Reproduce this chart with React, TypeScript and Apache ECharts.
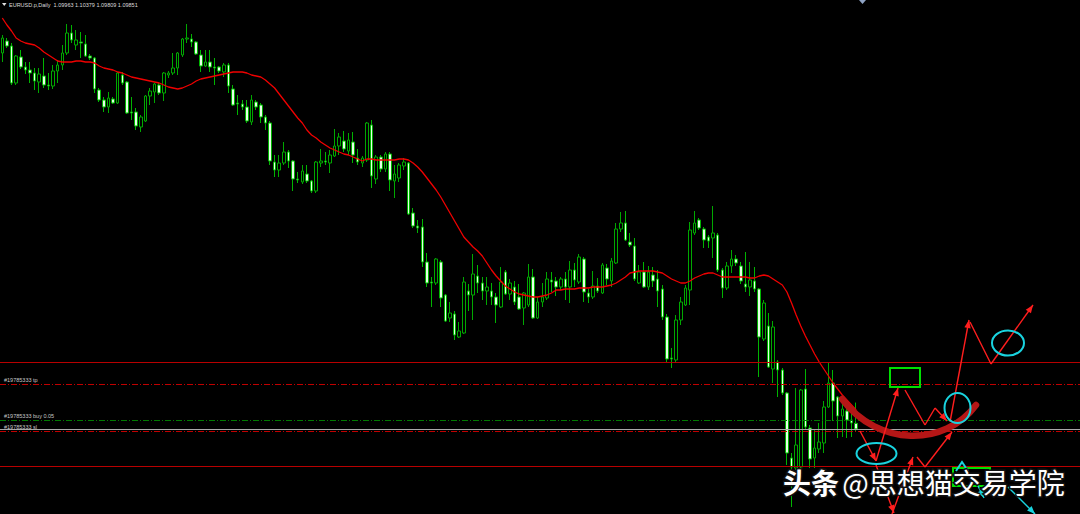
import React, { useEffect, useRef } from "react";
import * as echarts from "echarts";

// ---- data (EURUSD.p, Daily) ----
const titleText = "EURUSD.p,Daily  1.09963 1.10379 1.09809 1.09851";
const slotCount = 234; // bar slots incl. the empty right shift area
const categories = Array.from({ length: slotCount }, (_, i) => "D" + (i + 1));

const openP = [
  1.1737, 1.1761, 1.1751, 1.1677, 1.1729, 1.1709, 1.1703, 1.1697, 1.1679, 1.1691,
  1.1673, 1.1671, 1.1701, 1.1713, 1.1737, 1.1777, 1.1753, 1.1759, 1.1755, 1.1731,
  1.1727, 1.1663, 1.1643, 1.1629, 1.1645, 1.1637, 1.1693, 1.1679, 1.1619, 1.1619,
  1.1589, 1.1601, 1.1651, 1.1659, 1.1673, 1.1657, 1.1693, 1.1697, 1.1707, 1.1733,
  1.1765, 1.1765, 1.1759, 1.1733, 1.1711, 1.1719, 1.1709, 1.1709, 1.1699, 1.1713,
  1.1665, 1.1637, 1.1635, 1.1629, 1.1599, 1.1639, 1.1633, 1.1609, 1.1597, 1.1519,
  1.1503, 1.1517, 1.1539, 1.1521, 1.1485, 1.1479, 1.1495, 1.1481, 1.1461, 1.1517,
  1.1521, 1.1517, 1.1531, 1.1551, 1.1561, 1.1541, 1.1559, 1.1527, 1.1517, 1.1523,
  1.1593, 1.1485, 1.1529, 1.1505, 1.1535, 1.1481, 1.1487, 1.1511, 1.1517, 1.1417,
  1.1391, 1.1389, 1.1319, 1.1279, 1.1277, 1.1319, 1.1253, 1.1207, 1.1215, 1.1169,
  1.1177, 1.1261, 1.1253, 1.1291, 1.1277, 1.1261, 1.1261, 1.1249, 1.1229, 1.1299,
  1.1255, 1.1269, 1.1249, 1.1227, 1.1233, 1.1289, 1.1207, 1.1239, 1.1247, 1.1283,
  1.1281, 1.1269, 1.1285, 1.1269, 1.1303, 1.1279, 1.1325, 1.1257, 1.1249, 1.1271,
  1.1257, 1.1307, 1.1281, 1.1317, 1.1385, 1.1397, 1.1359, 1.1351, 1.1277, 1.1299,
  1.1269, 1.1293, 1.1285, 1.1265, 1.1209, 1.1127, 1.1123, 1.1203, 1.1233, 1.1263,
  1.1377, 1.1403, 1.1385, 1.1369, 1.1367, 1.1373, 1.1303, 1.1267, 1.1311, 1.1325,
  1.1311, 1.1275, 1.1269, 1.1281, 1.1265, 1.1165, 1.1191, 1.1105, 1.1119, 1.1103,
  1.1057, 1.0927, 1.0907, 1.0909, 1.1065, 1.0987, 1.0927, 1.0945, 1.0957, 1.1029,
  1.1077, 1.1049, 1.1011, 1.1021, 1.1003, 1.09963,
];
const closeP = [
  1.1767, 1.1751, 1.1677, 1.1731, 1.1709, 1.1703, 1.1697, 1.1681, 1.1695, 1.1673,
  1.1671, 1.1701, 1.1713, 1.1737, 1.1777, 1.1763, 1.1763, 1.1757, 1.1731, 1.1727,
  1.1665, 1.1643, 1.1629, 1.1647, 1.1637, 1.1697, 1.1677, 1.1617, 1.1617, 1.1591,
  1.1609, 1.1651, 1.1661, 1.1675, 1.1657, 1.1697, 1.1697, 1.1707, 1.1737, 1.1765,
  1.1767, 1.1759, 1.1735, 1.1711, 1.1719, 1.1709, 1.1707, 1.1701, 1.1713, 1.1671,
  1.1633, 1.1635, 1.1629, 1.1601, 1.1643, 1.1629, 1.1609, 1.1597, 1.1521, 1.1503,
  1.1517, 1.1539, 1.1521, 1.1485, 1.1483, 1.1501, 1.1481, 1.1461, 1.1519, 1.1521,
  1.1519, 1.1533, 1.1551, 1.1569, 1.1545, 1.1563, 1.1533, 1.1519, 1.1527, 1.1597,
  1.1491, 1.1529, 1.1505, 1.1535, 1.1483, 1.1495, 1.1513, 1.1519, 1.1415, 1.1391,
  1.1387, 1.1319, 1.1277, 1.1277, 1.1325, 1.1247, 1.1201, 1.1217, 1.1173, 1.1181,
  1.1279, 1.1253, 1.1295, 1.1277, 1.1261, 1.1269, 1.1249, 1.1233, 1.1279, 1.1255,
  1.1277, 1.1239, 1.1225, 1.1257, 1.1289, 1.1207, 1.1239, 1.1249, 1.1285, 1.1279,
  1.1269, 1.1285, 1.1269, 1.1303, 1.1283, 1.1329, 1.1259, 1.1249, 1.1271, 1.1261,
  1.1313, 1.1285, 1.1321, 1.1385, 1.1397, 1.1363, 1.1353, 1.1285, 1.1299, 1.1269,
  1.1299, 1.1281, 1.1261, 1.1209, 1.1125, 1.1125, 1.1203, 1.1239, 1.1267, 1.1383,
  1.1397, 1.1387, 1.1363, 1.1361, 1.1377, 1.1303, 1.1267, 1.1311, 1.1325, 1.1317,
  1.1281, 1.1269, 1.1283, 1.1265, 1.1169, 1.1237, 1.1109, 1.1189, 1.1103, 1.1057,
  1.0937, 1.0909, 1.0953, 1.1063, 1.0989, 1.0925, 1.0947, 1.0959, 1.1029, 1.1077,
  1.1041, 1.1011, 1.1025, 1.1003, 1.0997, 1.09851,
];
const lowP = [
  1.1719, 1.1747, 1.1673, 1.1673, 1.1705, 1.1695, 1.1677, 1.1663, 1.1657, 1.1667,
  1.1663, 1.1665, 1.1677, 1.1703, 1.1733, 1.1757, 1.1743, 1.1727, 1.1729, 1.1723,
  1.1657, 1.1639, 1.1619, 1.1617, 1.1635, 1.1635, 1.1673, 1.1615, 1.1603, 1.1583,
  1.1579, 1.1599, 1.1633, 1.1637, 1.1653, 1.1641, 1.1687, 1.1693, 1.1693, 1.1729,
  1.1757, 1.1749, 1.1733, 1.1699, 1.1709, 1.1699, 1.1673, 1.1697, 1.1689, 1.1657,
  1.1631, 1.1613, 1.1623, 1.1597, 1.1593, 1.1623, 1.1597, 1.1583, 1.1513, 1.1489,
  1.1489, 1.1513, 1.1507, 1.1461, 1.1477, 1.1475, 1.1477, 1.1457, 1.1457, 1.1509,
  1.1513, 1.1497, 1.1529, 1.1533, 1.1539, 1.1533, 1.1517, 1.1513, 1.1509, 1.1519,
  1.1467, 1.1475, 1.1499, 1.1499, 1.1461, 1.1447, 1.1479, 1.1503, 1.1413, 1.1387,
  1.1377, 1.1309, 1.1269, 1.1229, 1.1273, 1.1229, 1.1199, 1.1199, 1.1163, 1.1167,
  1.1175, 1.1221, 1.1203, 1.1257, 1.1243, 1.1233, 1.1233, 1.1197, 1.1227, 1.1253,
  1.1243, 1.1233, 1.1223, 1.1193, 1.1229, 1.1205, 1.1205, 1.1229, 1.1243, 1.1259,
  1.1251, 1.1263, 1.1243, 1.1237, 1.1269, 1.1275, 1.1239, 1.1237, 1.1245, 1.1257,
  1.1255, 1.1273, 1.1269, 1.1315, 1.1379, 1.1361, 1.1349, 1.1281, 1.1275, 1.1267,
  1.1263, 1.1269, 1.1229, 1.1203, 1.1119, 1.1107, 1.1119, 1.1193, 1.1231, 1.1233,
  1.1373, 1.1383, 1.1347, 1.1347, 1.1327, 1.1299, 1.1247, 1.1263, 1.1297, 1.1311,
  1.1275, 1.1259, 1.1251, 1.1259, 1.1089, 1.1161, 1.1107, 1.1077, 1.1049, 1.1053,
  1.0913, 1.0829, 1.0903, 1.0907, 1.0985, 1.0907, 1.0907, 1.0937, 1.0937, 1.1027,
  1.1001, 1.0967, 1.0969, 1.0967, 1.0969, 1.09809,
];
const highP = [
  1.1773, 1.1767, 1.1757, 1.1733, 1.1743, 1.1719, 1.1719, 1.1707, 1.1707, 1.1727,
  1.1697, 1.1713, 1.1723, 1.1753, 1.1795, 1.1793, 1.1783, 1.1779, 1.1773, 1.1735,
  1.1729, 1.1667, 1.1649, 1.1659, 1.1649, 1.1699, 1.1699, 1.1681, 1.1649, 1.1627,
  1.1613, 1.1653, 1.1667, 1.1677, 1.1677, 1.1699, 1.1701, 1.1737, 1.1739, 1.1767,
  1.1795, 1.1775, 1.1761, 1.1743, 1.1743, 1.1743, 1.1727, 1.1711, 1.1717, 1.1717,
  1.1673, 1.1653, 1.1643, 1.1643, 1.1653, 1.1643, 1.1637, 1.1613, 1.1601, 1.1533,
  1.1533, 1.1559, 1.1543, 1.1523, 1.1499, 1.1513, 1.1513, 1.1483, 1.1521, 1.1545,
  1.1539, 1.1543, 1.1585, 1.1577, 1.1581, 1.1577, 1.1579, 1.1545, 1.1531, 1.1599,
  1.1603, 1.1533, 1.1533, 1.1539, 1.1539, 1.1513, 1.1517, 1.1527, 1.1519, 1.1427,
  1.1403, 1.1405, 1.1337, 1.1289, 1.1327, 1.1323, 1.1255, 1.1239, 1.1221, 1.1199,
  1.1289, 1.1275, 1.1335, 1.1313, 1.1289, 1.1289, 1.1277, 1.1257, 1.1309, 1.1303,
  1.1285, 1.1281, 1.1275, 1.1259, 1.1315, 1.1305, 1.1249, 1.1277, 1.1299, 1.1299,
  1.1289, 1.1289, 1.1299, 1.1321, 1.1317, 1.1335, 1.1329, 1.1265, 1.1301, 1.1287,
  1.1317, 1.1315, 1.1327, 1.1397, 1.1419, 1.1421, 1.1377, 1.1367, 1.1313, 1.1319,
  1.1311, 1.1309, 1.1303, 1.1273, 1.1215, 1.1147, 1.1213, 1.1249, 1.1273, 1.1399,
  1.1421, 1.1407, 1.1389, 1.1373, 1.1431, 1.1377, 1.1307, 1.1319, 1.1343, 1.1333,
  1.1319, 1.1339, 1.1319, 1.1309, 1.1267, 1.1243, 1.1217, 1.1201, 1.1123, 1.1107,
  1.1059, 1.0937, 1.1067, 1.1065, 1.1105, 1.0993, 1.0983, 1.0997, 1.1041, 1.1117,
  1.1103, 1.1051, 1.1043, 1.1037, 1.1027, 1.10379,
];
const maP = [
  1.1807, 1.1793, 1.1781, 1.1767, 1.1761, 1.1757, 1.1755, 1.1753, 1.1747, 1.1739,
  1.1733, 1.1727, 1.1721, 1.1719, 1.1719, 1.1719, 1.1721, 1.1721, 1.1719, 1.1719,
  1.1717, 1.1711, 1.1707, 1.1705, 1.1703, 1.1699, 1.1697, 1.1693, 1.1689, 1.1687,
  1.1685, 1.1683, 1.1681, 1.1679, 1.1677, 1.1673, 1.1669, 1.1667, 1.1665, 1.1667,
  1.1671, 1.1675, 1.1681, 1.1685, 1.1687, 1.1689, 1.1691, 1.1693, 1.1695, 1.1697,
  1.1699, 1.1699, 1.1699, 1.1697, 1.1693, 1.1691, 1.1689, 1.1683, 1.1675, 1.1667,
  1.1655, 1.1643, 1.1631, 1.1619, 1.1607, 1.1597, 1.1583, 1.1573, 1.1567, 1.1559,
  1.1553, 1.1547, 1.1543, 1.1539, 1.1535, 1.1533, 1.1529, 1.1525, 1.1521, 1.1525,
  1.1525, 1.1523, 1.1523, 1.1523, 1.1523, 1.1523, 1.1525, 1.1525, 1.1523, 1.1517,
  1.1509, 1.1499, 1.1487, 1.1475, 1.1463, 1.1449, 1.1433, 1.1417, 1.1401, 1.1385,
  1.1369, 1.1359, 1.1349, 1.1341, 1.1331, 1.1317, 1.1303, 1.1291, 1.1281, 1.1271,
  1.1265, 1.1259, 1.1255, 1.1253, 1.1251, 1.1249, 1.1249, 1.1251, 1.1253, 1.1257,
  1.1263, 1.1263, 1.1265, 1.1265, 1.1265, 1.1267, 1.1267, 1.1267, 1.1269, 1.1269,
  1.1269, 1.1271, 1.1273, 1.1277, 1.1283, 1.1289, 1.1297, 1.1299, 1.1301, 1.1301,
  1.1301, 1.1301, 1.1299, 1.1297, 1.1291, 1.1285, 1.1281, 1.1277, 1.1277, 1.1281,
  1.1287, 1.1291, 1.1295, 1.1297, 1.1297, 1.1293, 1.1289, 1.1289, 1.1289, 1.1289,
  1.1289, 1.1289, 1.1287, 1.1287, 1.1291, 1.1293, 1.1291, 1.1285, 1.1279, 1.1273,
  1.1259, 1.1237, 1.1213, 1.1191, 1.1171, 1.1153, 1.1135, 1.1119, 1.1105, 1.1091,
  1.1077, 1.1065, 1.1053, 1.1043, 1.1033, 1.1023,
];

// horizontal price levels
const levelTopSolid = 1.1119;
const levelTp = 1.1075;
const levelBuy = 1.1003;
const levelBid = 1.09851;
const levelSl = 1.098;
const levelBottomSolid = 1.0911;
const orderLabels = ["#19785333 tp", "#19785333 buy 0.05", "#19785333 sl"];
const watermark = ["头条", "@思想猫交易学院"];

const priceMin = 1.0815;
const priceMax = 1.1843;

const RED = "#ff1e1e";
const CYAN = "#19d3df";

function arrow(x1: number, y1: number, x2: number, y2: number, color: string, head = true): any[] {
  const els: any[] = [
    { type: "line", shape: { x1, y1, x2, y2 }, style: { stroke: color, lineWidth: 1.4 }, z: 10 },
  ];
  if (head) {
    const a = Math.atan2(y2 - y1, x2 - x1);
    const L = 8;
    const W = 3.2;
    const bx = x2 - L * Math.cos(a);
    const by = y2 - L * Math.sin(a);
    els.push({
      type: "polygon",
      shape: {
        points: [
          [x2, y2],
          [bx + W * Math.sin(a), by - W * Math.cos(a)],
          [bx - W * Math.sin(a), by + W * Math.cos(a)],
        ],
      },
      style: { fill: color },
      z: 10,
    });
  }
  return els;
}

function dashDot(color: string) {
  return { color, width: 1, type: [6, 2, 1, 2] as any, opacity: 1 };
}

export default function App() {
  const ref = useRef<HTMLDivElement>(null);

  useEffect(() => {
    document.body.style.margin = "0";
    document.body.style.background = "#000";
    if (!ref.current) return;
    const chart = echarts.init(ref.current, undefined, { renderer: "svg" });

    const candles = openP.map((o, i) => [o, closeP[i], lowP[i], highP[i]]);

    const labelStyle = {
      show: true,
      position: "insideStartTop",
      fontSize: 5.5,
      color: "#c8c8c8",
      fontFamily: "Liberation Sans, Arial, sans-serif",
      distance: [4, 1],
    };

    const graphics: any[] = [
      // title
      {
        type: "polygon",
        shape: { points: [[2, 3], [6.5, 3], [4.25, 6]] },
        style: { fill: "#e0e0e0" },
      },
      {
        type: "text",
        x: 9,
        y: 1.5,
        style: {
          text: titleText,
          fontSize: 5.5,
          fill: "#dcdcdc",
          fontFamily: "Liberation Sans, Arial, sans-serif",
        },
      },
      {
        type: "polygon",
        shape: { points: [[859, 0], [866, 0], [862.5, 4]] },
        style: { fill: "#8fa3c4" },
      },
      // thick red curve
      {
        type: "bezierCurve",
        shape: { x1: 842, y1: 399, cpx1: 878, cpy1: 447, cpx2: 945, cpy2: 447, x2: 976, y2: 405 },
        style: { stroke: "#b51616", lineWidth: 6.5, lineCap: "round", fill: "none" },
        z: 9,
      },
      // green boxes
      {
        type: "rect",
        shape: { x: 890, y: 368, width: 30, height: 19 },
        style: { stroke: "#00e000", lineWidth: 2, fill: "none" },
        z: 10,
      },
      {
        type: "rect",
        shape: { x: 953, y: 468, width: 37, height: 18 },
        style: { stroke: "#00e000", lineWidth: 2, fill: "none" },
        z: 10,
      },
      // cyan ellipses
      {
        type: "ellipse",
        shape: { cx: 876.5, cy: 453.5, rx: 20, ry: 10.5 },
        style: { stroke: CYAN, lineWidth: 2, fill: "none" },
        z: 11,
      },
      {
        type: "ellipse",
        shape: { cx: 957.5, cy: 408, rx: 13, ry: 15 },
        style: { stroke: CYAN, lineWidth: 2, fill: "none" },
        z: 11,
      },
      {
        type: "ellipse",
        shape: { cx: 1008, cy: 343, rx: 16, ry: 12.5 },
        style: { stroke: CYAN, lineWidth: 2, fill: "none" },
        z: 11,
      },
      {
        type: "polyline",
        shape: { points: [[956, 471], [962, 462], [968, 471]] },
        style: { stroke: CYAN, lineWidth: 2, fill: "none" },
        z: 11,
      },
      ...arrow(975, 480, 984, 498, CYAN),
      ...arrow(1008, 487, 1035, 514, CYAN),
      // red arrows, upper path
      ...arrow(860, 431, 876, 461, RED),
      ...arrow(876, 461, 898, 388, RED),
      ...arrow(905, 390, 925, 425, RED, false),
      ...arrow(925, 425, 935, 408, RED, false),
      ...arrow(935, 408, 947, 421, RED),
      ...arrow(950, 422, 969, 320, RED),
      ...arrow(970, 322, 991, 364, RED, false),
      ...arrow(991, 364, 1033, 305, RED),
      // red arrows, lower path
      ...arrow(876, 465, 894, 513, RED),
      ...arrow(892, 514, 913, 457, RED),
      ...arrow(917, 457, 925, 467, RED, false),
      ...arrow(925, 467, 952, 432, RED),
      // watermark
      {
        type: "text",
        x: 783,
        y: 468,
        style: {
          text: "{a|" + watermark[0] + "} {b|" + watermark[1] + "}",
          fill: "#ffffff",
          rich: {
            a: {
              fontSize: 28,
              fontWeight: "bold",
              fontFamily: "Noto Sans CJK SC",
              fill: "#ffffff",
              stroke: "#111",
              lineWidth: 3,
            },
            b: {
              fontSize: 28,
              fontFamily: "Noto Sans CJK SC",
              fill: "#ffffff",
              stroke: "#111",
              lineWidth: 3,
            },
          },
        },
        z: 20,
      },
    ];

    chart.setOption({
      animation: false,
      backgroundColor: "#000000",
      grid: { left: -2, right: -2, top: 0, bottom: 0 },
      xAxis: {
        type: "category",
        data: categories,
        boundaryGap: true,
        show: false,
      },
      yAxis: {
        type: "value",
        min: priceMin,
        max: priceMax,
        show: false,
        splitLine: { show: false },
      },
      series: [
        {
          type: "candlestick",
          data: candles,
          barWidth: 3,
          itemStyle: {
            color: "#000000",
            color0: "#e6ffe6",
            borderColor: "#00a800",
            borderColor0: "#00b400",
            borderColorDoji: "#00a800",
            borderWidth: 1,
          },
          markLine: {
            silent: true,
            precision: 5,
            symbol: ["none", "none"],
            animation: false,
            emphasis: { disabled: true },
            data: [
              { yAxis: levelTopSolid, lineStyle: { color: "#b80000", width: 1, type: "solid", opacity: 1 }, label: { show: false } },
              { yAxis: levelTp, lineStyle: dashDot("#c00000"), label: { ...labelStyle, formatter: orderLabels[0] } },
              { yAxis: levelBuy, lineStyle: dashDot("#007a00"), label: { ...labelStyle, formatter: orderLabels[1] } },
              { yAxis: levelBid, lineStyle: { color: "#a8a8a8", width: 1, type: "solid", opacity: 1 }, label: { show: false } },
              { yAxis: levelSl, lineStyle: dashDot("#c00000"), label: { ...labelStyle, distance: [4, 2], formatter: orderLabels[2] } },
              { yAxis: levelBottomSolid, lineStyle: { color: "#b80000", width: 1, type: "solid", opacity: 1 }, label: { show: false } },
            ],
          },
        },
        {
          type: "line",
          data: maP,
          symbol: "none",
          lineStyle: { color: "#f00000", width: 1.3 },
          z: 3,
        },
      ],
      graphic: graphics,
    });

    return () => {
      chart.dispose();
    };
  }, []);

  return <div ref={ref} style={{ width: 1080, height: 514, background: "#000" }} />;
}
